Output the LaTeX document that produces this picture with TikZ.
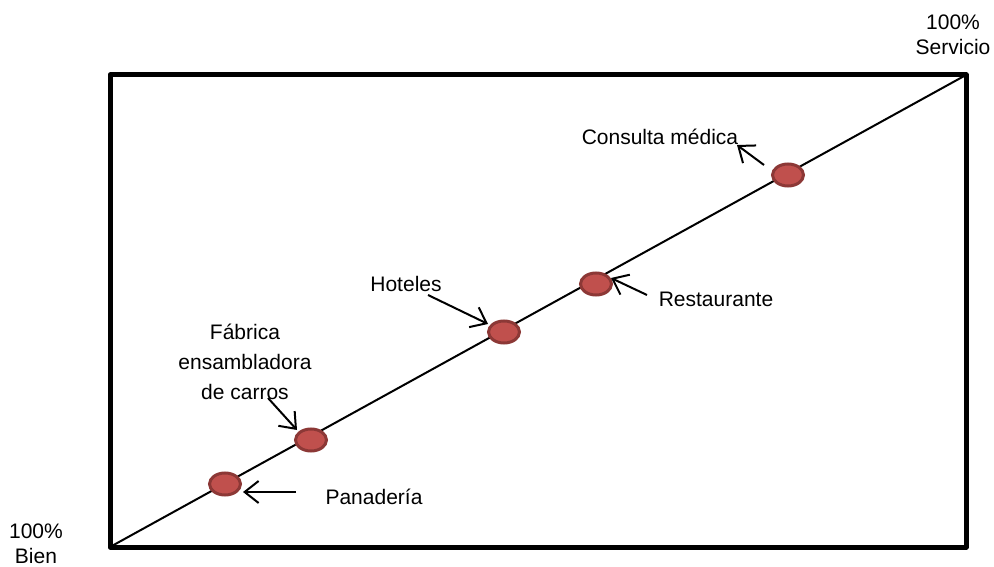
\documentclass[tikz,border=0pt]{standalone}
\usepackage{fontspec}
\setmainfont{Liberation Sans}
\usetikzlibrary{arrows.meta,shapes.geometric}
\definecolor{dotfill}{HTML}{C0504D}
\definecolor{dotring}{HTML}{8C3836}
\begin{document}
\begin{tikzpicture}[x=1pt,y=-1pt,
  frame/.style={line width=5pt,line join=round},
  dot/.style={ellipse,draw=dotring,fill=dotfill,line width=3pt,minimum width=31pt,minimum height=22pt,inner sep=0pt},
  lbl/.style={font=\fontsize{21}{30}\selectfont,inner sep=0pt,align=center},
  corner/.style={font=\fontsize{21}{25}\selectfont,inner sep=0pt,align=center},
  pointer/.style={line width=2pt,-{Straight Barb[length=14pt,width=22pt,line width=2pt]}}]
\useasboundingbox (0,0) rectangle (994,567);
% frame and diagonal
\coordinate (bl) at (110,547);
\coordinate (tr) at (966,75);
\draw[frame] (bl) rectangle (tr);
\draw[line width=2pt] (bl) -- (tr);
% points along the diagonal
\node[dot] (pan) at (225,484) {};
\node[dot] (fab) at (311,440) {};
\node[dot] (hot) at (504,332) {};
\node[dot] (res) at (596,284) {};
\node[dot] (con) at (788,175) {};
% labels
\node[lbl] (tpan) at (374,497) {Panadería};
\node[lbl] (tfab) at (245,362) {Fábrica\\ensambladora\\de carros};
\node[lbl] (thot) at (406,284) {Hoteles};
\node[lbl] (tres) at (716,299) {Restaurante};
\node[lbl] (tcon) at (660,137) {Consulta médica};
\node[corner] (serv) at (953,35) {100\%\\Servicio};
\node[corner] (bien) at (36,544) {100\%\\Bien};
% pointer ends
\coordinate (apan) at (296,492);
\coordinate (bpan) at (243,492);
\coordinate (afab) at (268,398);
\coordinate (bfab) at (297,430);
\coordinate (ahot) at (428,295);
\coordinate (bhot) at (488,324);
\coordinate (ares) at (647,295);
\coordinate (bres) at (611,278);
\coordinate (acon) at (764,165);
\coordinate (bcon) at (737,145);
\draw[pointer] (apan) -- (bpan);
\draw[pointer] (afab) -- (bfab);
\draw[pointer] (ahot) -- (bhot);
\draw[pointer] (ares) -- (bres);
\draw[pointer] (acon) -- (bcon);
\end{tikzpicture}
\end{document}
